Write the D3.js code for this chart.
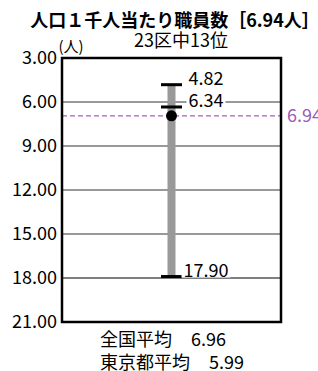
<!DOCTYPE html>
<html>
<head>
<meta charset="utf-8">
<script src="https://cdn.jsdelivr.net/npm/d3@7"></script>
<style>
  body { margin: 0; background: #fff; }
  svg { display: block; font-family: "Noto Sans CJK JP", "Noto Sans", sans-serif; }
</style>
</head>
<body>
<div id="chart"></div>
<script>
// chart values
var titleText = "人口１千人当たり職員数［6.94人］";
var rankText = "23区中13位";
var unitText = "(人)";
var yTicks = [3, 6, 9, 12, 15, 18, 21];
var darkGrid = [18];
var capValues = [4.82, 6.34, 17.90];   // top, second, bottom of the range bar
var wardValue = 6.94;
var avgNames = ["全国平均", "東京都平均"];
var avgValues = [6.96, 5.99];

var width = 318, height = 371;
var plot = { left: 62, right: 281, top: 58, bottom: 322 };

var svg = d3.select("#chart")
    .append("svg")
    .attr("width", width)
    .attr("height", height);

// 3 at the top, 21 at the bottom
var y = d3.scaleLinear()
    .domain([d3.min(yTicks), d3.max(yTicks)])
    .range([plot.top, plot.bottom]);

var cx = (plot.left + plot.right) / 2;

// title + rank
svg.append("text")
    .attr("x", 175).attr("y", 27)
    .attr("text-anchor", "middle")
    .attr("font-size", 18)
    .attr("font-weight", "bold")
    .text(titleText);

svg.append("text")
    .attr("x", 181).attr("y", 47)
    .attr("text-anchor", "middle")
    .attr("font-size", 18)
    .text(rankText);

svg.append("text")
    .attr("x", 71).attr("y", 52)
    .attr("text-anchor", "middle")
    .attr("font-size", 15)
    .text(unitText);

// gridlines (not at the box edges)
svg.selectAll(".grid")
    .data(yTicks.filter(function (d) { return d > yTicks[0] && d < yTicks[yTicks.length - 1]; }))
    .enter().append("line")
    .attr("class", "grid")
    .attr("x1", plot.left).attr("x2", plot.right)
    .attr("y1", function (d) { return y(d); })
    .attr("y2", function (d) { return y(d); })
    .attr("stroke", function (d) { return darkGrid.indexOf(d) >= 0 ? "#000" : "#777"; })
    .attr("stroke-width", function (d) { return darkGrid.indexOf(d) >= 0 ? 1.2 : 1.4; });

// y axis labels
var yAxis = d3.axisLeft(y)
    .tickValues(yTicks)
    .tickSize(0)
    .tickPadding(5)
    .tickFormat(d3.format(".2f"));

var gAxis = svg.append("g")
    .attr("transform", "translate(" + plot.left + ",0)")
    .call(yAxis);
gAxis.select(".domain").remove();
gAxis.selectAll("text")
    .attr("font-size", 18)
    .attr("font-family", "\"Noto Sans CJK JP\", sans-serif")
    .attr("fill", "#000");

// ward value dashed line
svg.append("line")
    .attr("x1", plot.left).attr("x2", plot.right)
    .attr("y1", y(wardValue)).attr("y2", y(wardValue))
    .attr("stroke", "#a062bd")
    .attr("stroke-width", 1.2)
    .attr("stroke-dasharray", "5,3");

svg.append("text")
    .attr("x", plot.right + 6)
    .attr("y", y(wardValue))
    .attr("dy", "0.35em")
    .attr("font-size", 18)
    .attr("fill", "#9a5bb8")
    .text(d3.format(".2f")(wardValue));

// range bar
svg.append("rect")
    .attr("x", cx - 4)
    .attr("y", y(d3.min(capValues)))
    .attr("width", 8)
    .attr("height", y(d3.max(capValues)) - y(d3.min(capValues)))
    .attr("fill", "#999");

svg.selectAll(".cap")
    .data(capValues)
    .enter().append("rect")
    .attr("class", "cap")
    .attr("x", cx - 10.5)
    .attr("y", function (d) { return y(d) - 1.5; })
    .attr("width", 21)
    .attr("height", 3)
    .attr("fill", "#000");

// cap labels, white behind so the gridline breaks
var capLabels = svg.selectAll(".cap-label")
    .data(capValues)
    .enter().append("g")
    .attr("class", "cap-label");

capLabels.append("text")
    .attr("x", function (d, i) { return i == capValues.length - 1 ? cx + 12 : cx + 17; })
    .attr("y", function (d) { return y(d); })
    .attr("font-size", 18)
    .text(function (d) { return d3.format(".2f")(d); });

capLabels.each(function () {
    var g = d3.select(this);
    var bb = g.select("text").node().getBBox();
    g.insert("rect", "text")
        .attr("x", bb.x - 2).attr("y", bb.y + 5)
        .attr("width", bb.width + 4).attr("height", bb.height - 9)
        .attr("fill", "#fff");
});

// ward dot
svg.append("circle")
    .attr("cx", cx)
    .attr("cy", y(wardValue))
    .attr("r", 5.5)
    .attr("fill", "#000");

// box
svg.append("rect")
    .attr("x", plot.left).attr("y", plot.top)
    .attr("width", plot.right - plot.left)
    .attr("height", plot.bottom - plot.top)
    .attr("fill", "none")
    .attr("stroke", "#000")
    .attr("stroke-width", 2.5);

// averages below the box
var avg = svg.selectAll(".avg")
    .data(avgNames)
    .enter().append("g")
    .attr("class", "avg");

avg.append("text")
    .attr("x", 100)
    .attr("y", function (d, i) { return 346 + i * 22.5; })
    .attr("font-size", 18)
    .text(function (d) { return d; });

avg.append("text")
    .attr("x", function (d) { return 100 + d.length * 18 + 19; })
    .attr("y", function (d, i) { return 346 + i * 22.5; })
    .attr("font-size", 18)
    .text(function (d, i) { return d3.format(".2f")(avgValues[i]); });
</script>
</body>
</html>
